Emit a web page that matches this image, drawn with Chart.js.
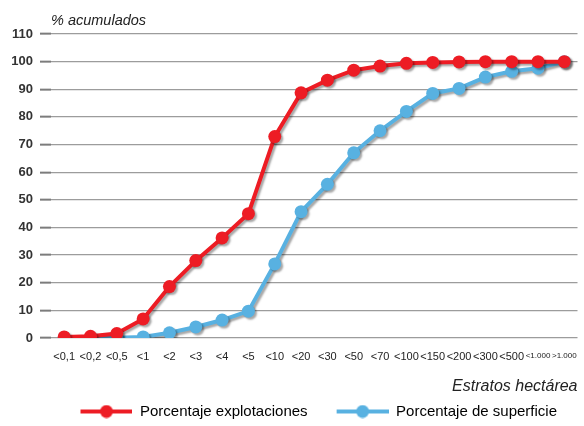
<!DOCTYPE html>
<html>
<head>
<meta charset="utf-8">
<script src="https://cdn.jsdelivr.net/npm/chart.js@4"></script>
<style>
  html, body { margin: 0; padding: 0; background: #fff; }
  #wrap { width: 584px; height: 426px; }
</style>
</head>
<body>
<div id="wrap"><canvas id="acumChart"></canvas></div>
<script>
const estratos = ["<0,1", "<0,2", "<0,5", "<1", "<2", "<3", "<4", "<5", "<10", "<20",
  "<30", "<50", "<70", "<100", "<150", "<200", "<300", "<500", "<1.000", ">1.000"];
const pctExplotaciones = [0.4, 0.6, 1.6, 6.9, 18.6, 28, 36.2, 45, 72.9, 88.7,
  93.3, 96.9, 98.4, 99.4, 99.7, 99.9, 100, 100, 100, 100];
const pctSuperficie = [0.05, 0.05, 0.1, 0.4, 1.9, 4, 6.5, 9.7, 26.8, 45.7,
  55.6, 67, 75, 82, 88.5, 90.3, 94.4, 96.5, 97.6, 100];
const yTicks = [0, 10, 20, 30, 40, 50, 60, 70, 80, 90, 100, 110];

const RED = "#ed1c24";
const BLUE = "#58b1e1";

// legend sample: line with a dot in the middle (small blank margin on the left)
function legendSwatch(color) {
  const c = document.createElement("canvas");
  c.width = 57; c.height = 14;
  const g = c.getContext("2d");
  g.strokeStyle = color; g.lineWidth = 4;
  g.beginPath(); g.moveTo(5, 7); g.lineTo(57, 7); g.stroke();
  g.fillStyle = color;
  g.beginPath(); g.arc(31, 7, 6.5, 0, Math.PI * 2); g.fill();
  return c;
}

const shadowPlugin = {
  id: "shadow",
  beforeDatasetsDraw(chart) {
    const ctx = chart.ctx;
    ctx.save();
    ctx.shadowColor = "rgba(0,0,0,0.35)";
    ctx.shadowOffsetX = 2;
    ctx.shadowOffsetY = 2;
    ctx.shadowBlur = 2;
  },
  afterDatasetsDraw(chart) {
    chart.ctx.restore();
  }
};

const ctx = document.getElementById("acumChart").getContext("2d");
new Chart(ctx, {
  type: "line",
  data: {
    labels: estratos,
    datasets: [
      {
        label: "Porcentaje explotaciones",
        data: pctExplotaciones,
        borderColor: RED,
        backgroundColor: RED,
        borderWidth: 4,
        pointRadius: 6.5,
        pointBorderWidth: 0,
        tension: 0
      },
      {
        label: "Porcentaje de superficie",
        data: pctSuperficie,
        borderColor: BLUE,
        backgroundColor: BLUE,
        borderWidth: 4,
        pointRadius: 6.5,
        pointBorderWidth: 0,
        tension: 0
      }
    ]
  },
  options: {
    responsive: true,
    maintainAspectRatio: false,
    animation: false,
    layout: { padding: { left: 4.3, right: 3, top: 12, bottom: -3 } },
    plugins: {
      tooltip: { enabled: false },
      title: {
        display: true,
        text: "% acumulados",
        align: "start",
        fullSize: false,
        color: "#222",
        font: { family: "'Liberation Sans', Arial, sans-serif", size: 14.5, style: "italic", weight: "normal" },
        padding: { top: 0, bottom: 4.6 }
      },
      legend: {
        position: "bottom",
        align: "end",
        labels: {
          color: "#222",
          font: { family: "'Liberation Sans', Arial, sans-serif", size: 15 },
          usePointStyle: true,
          pointStyleWidth: 57,
          padding: 24,
          generateLabels(chart) {
            return chart.data.datasets.map((ds, i) => ({
              text: ds.label,
              pointStyle: legendSwatch(ds.borderColor),
              fillStyle: ds.borderColor,
              strokeStyle: ds.borderColor,
              lineWidth: 0,
              datasetIndex: i
            }));
          }
        }
      }
    },
    scales: {
      x: {
        offset: true,
        afterFit(scale) {
          scale.paddingLeft = 0;
          scale.paddingRight = 0;
        },
        grid: { display: false, drawTicks: true, tickLength: 12.5 },
        border: { display: false },
        ticks: {
          autoSkip: false,
          maxRotation: 0,
          padding: 0,
          color: "#222",
          font: (c) => ({
            family: "'Liberation Sans', Arial, sans-serif",
            size: c.index >= 18 ? 8 : 11
          })
        },
        title: {
          display: true,
          text: "Estratos hectárea",
          align: "end",
          color: "#222",
          font: { family: "'Liberation Sans', Arial, sans-serif", size: 16, style: "italic" },
          padding: { top: 13.1, bottom: -16 }
        }
      },
      y: {
        min: 0,
        max: 110,
        afterBuildTicks(scale) {
          scale.ticks = yTicks.map(v => ({ value: v }));
        },
        grid: {
          color: "#9c9c9c",
          lineWidth: 1.3,
          tickLength: 11,
          tickColor: "#7c7c7c",
          tickWidth: 2
        },
        border: { display: false },
        ticks: {
          padding: 7,
          color: "#333",
          font: { family: "'Liberation Sans', Arial, sans-serif", size: 13, weight: "bold" }
        }
      }
    }
  },
  plugins: [shadowPlugin]
});
</script>
</body>
</html>
